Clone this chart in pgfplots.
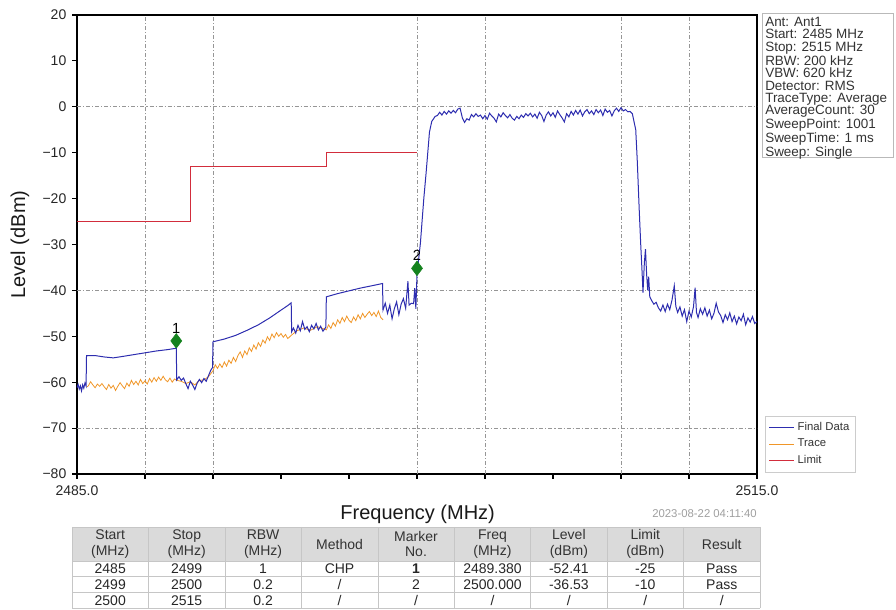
\documentclass[border=0pt]{standalone}
\usepackage{fontspec}
\setmainfont{Liberation Sans}
\usepackage{pgfplots}
\pgfplotsset{compat=1.18}
\definecolor{fdblue}{RGB}{45,45,175}
\definecolor{trorange}{RGB}{240,150,40}
\definecolor{limred}{RGB}{210,45,60}
\definecolor{mkgreen}{RGB}{20,130,30}
\definecolor{hdrgray}{RGB}{218,218,218}
\definecolor{gridgray}{RGB}{150,150,150}
\begin{document}
\begin{tikzpicture}
\path[use as bounding box] (0,0) rectangle (672pt,457.5pt);
\begin{axis}[
  at={(57.75pt,102pt)}, anchor=south west,
  width=510pt, height=344.25pt, scale only axis,
  xmin=2485, xmax=2515, ymin=-80, ymax=20,
  xtick={2485,2488,...,2515},
  xticklabels={2485.0,,,,,,,,,,2515.0},
  ytick={-80,-70,...,20},
  yticklabels={−80,−70,−60,−50,−40,−30,−20,−10,0,10,20},
  extra x ticks={2488,2491,2500,2503,2509,2512},
  extra x tick labels={},
  extra x tick style={grid=major, major tick length=0pt},
  extra y ticks={0,-40,-70},
  extra y tick labels={},
  extra y tick style={grid=major, major tick length=0pt},
  major grid style={gridgray, line width=0.5pt, dash pattern=on 3pt off 1.5pt on 0.8pt off 1.5pt},
  tick align=outside, major tick length=3.5pt, tick pos=left,
  tick style={black, line width=0.8pt},
  axis line style={black, line width=1.1pt},
  /pgf/number format/assume math mode=true,
  tick label style={font=\fontsize{10.5}{12}\selectfont, text=black!85},
  xticklabel style={yshift=-1.5pt},
  yticklabel style={xshift=-1pt},
  xlabel={Frequency (MHz)}, ylabel={Level (dBm)},
  label style={font=\fontsize{15}{17}\selectfont, text=black!90},
  xlabel style={at={(axis description cs:0.501,-0.087)}, anchor=center},
  ylabel style={at={(axis description cs:-0.084,0.5)}, anchor=center},
  legend style={at={(axis description cs:1.0118,0.1264)}, anchor=north west, draw=gray!40, font=\fontsize{8.5}{10}\selectfont, text=black!80, row sep=1pt, inner sep=2.5pt, cells={anchor=west}},
  reverse legend,
  legend image code/.code={\draw[#1] (0pt,0pt) -- (19pt,0pt);},
]
\addplot[limred, line width=0.8pt, const plot] coordinates {(2485,-25) (2490,-13) (2496,-10) (2500,-10)};
\addlegendentry{Limit}
\addplot[trorange, line width=0.6pt] coordinates {
(2485.45,-61.0) (2485.50,-60.8) (2485.60,-59.9) (2485.70,-60.6) (2485.80,-61.2) (2485.90,-60.4) (2486.00,-60.9) (2486.10,-60.3) (2486.20,-61.0) (2486.30,-61.6) (2486.40,-60.5) (2486.50,-61.3) (2486.60,-60.7) (2486.70,-61.8) (2486.80,-60.9) (2486.90,-60.1) (2487.00,-60.8) (2487.10,-61.4) (2487.20,-60.2) (2487.30,-60.9) (2487.40,-59.6) (2487.50,-60.5) (2487.60,-59.8) (2487.70,-60.6) (2487.80,-59.4) (2487.90,-60.3) (2488.00,-59.7) (2488.10,-60.4) (2488.20,-59.2) (2488.30,-60.0) (2488.40,-59.0) (2488.50,-59.8) (2488.60,-58.9) (2488.70,-59.6) (2488.80,-58.7) (2488.90,-59.5) (2489.00,-59.9) (2489.10,-59.1) (2489.20,-60.0) (2489.30,-59.3) (2489.40,-59.6)
(2489.60,-59.8) (2489.80,-60.3) (2490.00,-59.9) (2490.20,-60.6) (2490.40,-59.6) (2490.60,-59.5) (2490.80,-58.8) (2491.00,-57.5)
(2491.10,-56.2) (2491.20,-57.0) (2491.30,-56.0) (2491.40,-56.8) (2491.50,-55.6) (2491.60,-56.5) (2491.70,-55.2) (2491.80,-55.9) (2491.90,-54.6) (2492.00,-55.5) (2492.10,-54.2) (2492.20,-53.4) (2492.30,-54.6) (2492.40,-53.2) (2492.50,-54.0) (2492.60,-52.5) (2492.70,-53.3) (2492.80,-51.9) (2492.90,-52.8) (2493.00,-51.4) (2493.10,-52.2) (2493.20,-50.8) (2493.30,-51.5) (2493.40,-50.1) (2493.50,-50.9) (2493.60,-49.5) (2493.70,-50.3) (2493.80,-49.2) (2493.90,-50.0) (2494.00,-49.4) (2494.10,-50.2) (2494.20,-49.6) (2494.30,-50.5) (2494.45,-49.8)
(2494.70,-48.8) (2495.00,-48.2) (2495.30,-48.7) (2495.60,-47.9) (2495.90,-48.4)
(2496.00,-48.6) (2496.10,-47.5) (2496.20,-48.3) (2496.30,-47.0) (2496.40,-47.8) (2496.50,-46.4) (2496.60,-47.2) (2496.70,-45.9) (2496.80,-46.8) (2496.90,-45.6) (2497.00,-46.5) (2497.10,-47.0) (2497.20,-45.8) (2497.30,-46.6) (2497.40,-45.3) (2497.50,-46.2) (2497.60,-45.0) (2497.70,-45.9) (2497.80,-45.2) (2497.90,-44.6) (2498.00,-45.5) (2498.10,-44.8) (2498.20,-45.7) (2498.30,-44.5) (2498.40,-45.9) (2498.50,-46.4)
};
\addlegendentry{Trace}
\addplot[fdblue, line width=0.75pt] coordinates {
(2485.00,-61.2) (2485.05,-60.5) (2485.10,-61.5) (2485.15,-60.8) (2485.20,-61.9) (2485.25,-60.6) (2485.30,-61.3) (2485.35,-60.2) (2485.40,-60.8)
(2485.42,-54.2) (2485.80,-54.2) (2486.20,-54.5) (2486.60,-54.7) (2487.00,-54.4) (2487.50,-54.0) (2488.00,-53.6) (2488.50,-53.2) (2489.00,-52.9) (2489.38,-52.6)
(2489.40,-59.5) (2489.50,-58.8) (2489.60,-59.6) (2489.70,-59.1) (2489.80,-60.3) (2489.90,-61.4) (2490.00,-59.8) (2490.10,-60.6) (2490.20,-61.6) (2490.30,-60.2) (2490.40,-59.4) (2490.50,-60.1) (2490.60,-59.2) (2490.70,-59.8) (2490.80,-58.6) (2490.90,-57.4) (2490.98,-56.8)
(2491.00,-51.2) (2491.50,-50.6) (2492.00,-49.8) (2492.50,-48.7) (2493.00,-47.5) (2493.50,-46.0) (2494.00,-44.3) (2494.30,-43.3) (2494.45,-42.7)
(2494.47,-49.0) (2494.55,-48.2) (2494.65,-49.3) (2494.75,-47.6) (2494.85,-48.8) (2494.95,-46.8) (2495.05,-48.5) (2495.15,-47.9) (2495.25,-49.0) (2495.35,-47.6) (2495.45,-48.4) (2495.55,-47.2) (2495.65,-48.6) (2495.75,-47.8) (2495.85,-48.9) (2495.98,-48.0)
(2496.00,-41.4) (2496.50,-40.7) (2497.00,-40.1) (2497.50,-39.5) (2498.00,-39.0) (2498.48,-38.5)
(2498.50,-44.3) (2498.60,-42.8) (2498.70,-45.0) (2498.80,-43.2) (2498.90,-46.2) (2499.00,-44.0) (2499.10,-42.5) (2499.20,-45.3) (2499.30,-43.0) (2499.40,-41.8) (2499.50,-43.9) (2499.60,-38.0) (2499.65,-43.2) (2499.75,-42.8) (2499.85,-42.9) (2499.90,-39.5) (2499.95,-44.0) (2500.00,-36.5)
(2500.15,-29.7) (2500.30,-20.0) (2500.40,-14.5) (2500.55,-5.5) (2500.65,-3.2) (2500.80,-2.1)
(2500.90,-1.9) (2501.00,-1.2) (2501.10,-1.8) (2501.20,-1.0) (2501.30,-1.6) (2501.40,-0.9) (2501.50,-1.4) (2501.60,-0.8) (2501.70,-1.3) (2501.80,-0.5) (2501.90,-0.3) (2502.00,-2.4) (2502.10,-3.4) (2502.20,-2.6) (2502.30,-2.9) (2502.40,-1.7) (2502.50,-2.2) (2502.60,-1.5) (2502.70,-2.1) (2502.80,-1.8) (2502.90,-2.6) (2503.00,-1.9) (2503.10,-2.7) (2503.20,-1.4) (2503.30,-2.0) (2503.40,-2.5) (2503.50,-3.3) (2503.60,-1.6) (2503.70,-2.2) (2503.80,-1.3) (2503.90,-1.9) (2504.00,-2.4) (2504.10,-1.7) (2504.20,-2.5) (2504.30,-2.9) (2504.40,-2.1) (2504.50,-2.6) (2504.60,-1.8) (2504.70,-2.3) (2504.80,-1.5) (2504.90,-2.0) (2505.00,-1.4) (2505.10,-2.2) (2505.20,-1.6) (2505.30,-2.5) (2505.40,-1.2) (2505.50,-1.9) (2505.60,-3.2) (2505.70,-1.8) (2505.80,-1.1) (2505.90,-2.0) (2506.00,-1.3) (2506.10,-2.3) (2506.20,-0.9) (2506.30,-1.7) (2506.40,-2.4) (2506.50,-3.3) (2506.60,-1.5) (2506.70,-2.2) (2506.80,-1.0) (2506.90,-1.8) (2507.00,-0.8) (2507.10,-1.6) (2507.20,-0.7) (2507.30,-2.0) (2507.40,-1.1) (2507.50,-0.6) (2507.60,-1.5) (2507.70,-0.9) (2507.80,-1.7) (2507.90,-0.6) (2508.00,-1.3) (2508.10,-0.7) (2508.20,-1.9) (2508.30,-0.5) (2508.40,-1.2) (2508.50,-0.8) (2508.60,-2.0) (2508.70,-0.9) (2508.80,-0.3) (2508.90,-1.0) (2509.00,-0.2) (2509.10,-0.9) (2509.20,-0.6) (2509.30,-1.1) (2509.40,-1.0) (2509.50,-1.5)
(2509.65,-5.0) (2509.72,-12.0) (2509.80,-22.0) (2509.87,-30.0) (2509.93,-36.0) (2509.97,-40.5) (2510.03,-34.0) (2510.08,-31.0) (2510.13,-36.5) (2510.18,-40.0) (2510.22,-37.0) (2510.27,-41.4) (2510.35,-42.2) (2510.45,-43.0) (2510.55,-42.6) (2510.65,-43.8) (2510.75,-44.5) (2510.85,-43.2) (2510.95,-44.6) (2511.05,-43.0) (2511.15,-44.2) (2511.25,-42.1) (2511.35,-39.0) (2511.42,-43.5) (2511.50,-44.8) (2511.60,-43.6) (2511.70,-45.6) (2511.80,-44.2) (2511.90,-46.8) (2512.00,-44.5) (2512.10,-45.8) (2512.20,-43.5) (2512.27,-39.4) (2512.33,-44.8) (2512.40,-45.9) (2512.50,-44.0) (2512.60,-45.2) (2512.70,-43.8) (2512.80,-45.6) (2512.90,-44.3) (2513.00,-46.2) (2513.10,-45.0) (2513.20,-42.8) (2513.30,-44.7) (2513.40,-45.5) (2513.50,-47.0) (2513.60,-45.3) (2513.70,-46.4) (2513.80,-44.9) (2513.90,-46.8) (2514.00,-45.6) (2514.10,-47.3) (2514.20,-45.8) (2514.30,-46.6) (2514.40,-45.2) (2514.50,-47.5) (2514.60,-46.0) (2514.70,-46.9) (2514.80,-45.7) (2514.90,-47.2) (2515.00,-46.8)
};
\addlegendentry{Final Data}
\addplot[forget plot, only marks, mark=diamond*, mark size=5.5pt, mark options={draw=mkgreen, fill=mkgreen},
  nodes near coords, point meta=explicit symbolic,
  nodes near coords style={text=black, font=\fontsize{11}{12}\selectfont, anchor=south, inner sep=0pt, yshift=5.5pt}]
  coordinates {(2489.38,-51.0) [1] (2500.00,-35.2) [2]};
\end{axis}
\begin{scope}[x=0.75pt,y=-0.75pt,yshift=457.5pt]
  \draw[gray!55, line width=0.6pt] (762,13) rectangle (893,157);
  \node[anchor=north west, inner sep=0pt, align=left, font=\fontsize{10.1}{9.3}\selectfont, text=black!80] at (765,17)
    {Ant: Ant1\\Start: 2485 MHz\\Stop: 2515 MHz\\RBW: 200 kHz\\VBW: 620 kHz\\Detector: RMS\\TraceType: Average\\AverageCount: 30\\SweepPoint: 1001\\SweepTime: 1 ms\\Sweep: Single};
  \node[anchor=east, inner sep=0pt, font=\fontsize{8.5}{10}\selectfont, text=gray!75] at (757,514) {2023-08-22 04:11:40};
  \fill[hdrgray] (72,527) rectangle (760,561);
  \foreach \i in {0,...,9} \draw[gray!45, line width=0.4pt] ({72+\i*76.444},527) -- ({72+\i*76.444},608);
  \foreach \yy in {527,561,576.7,592.3,608} \draw[gray!45, line width=0.4pt] (72,\yy) -- (760,\yy);
  \foreach \t [count=\i from 0] in {{Start\\(MHz)},{Stop\\(MHz)},{RBW\\(MHz)},Method,{Marker\\No.},{Freq\\(MHz)},{Level\\(dBm)},{Limit\\(dBm)},Result}
    \node[align=center, inner sep=0pt, font=\fontsize{10.5}{11.5}\selectfont, text=black!80] at ({72+(\i+0.5)*76.444},544) {\t};
  \foreach \t [count=\i from 0] in {2485,2499,1,CHP,\textbf{1},2489.380,-52.41,-25,Pass}
    \node[inner sep=0pt, font=\fontsize{10.5}{11.5}\selectfont, text=black!85] at ({72+(\i+0.5)*76.444},568.9) {\t};
  \foreach \t [count=\i from 0] in {2499,2500,0.2,/,2,2500.000,-36.53,-10,Pass}
    \node[inner sep=0pt, font=\fontsize{10.5}{11.5}\selectfont, text=black!85] at ({72+(\i+0.5)*76.444},584.5) {\t};
  \foreach \t [count=\i from 0] in {2500,2515,0.2,/,/,/,/,/,/}
    \node[inner sep=0pt, font=\fontsize{10.5}{11.5}\selectfont, text=black!85] at ({72+(\i+0.5)*76.444},600.2) {\t};
\end{scope}
\end{tikzpicture}
\end{document}
